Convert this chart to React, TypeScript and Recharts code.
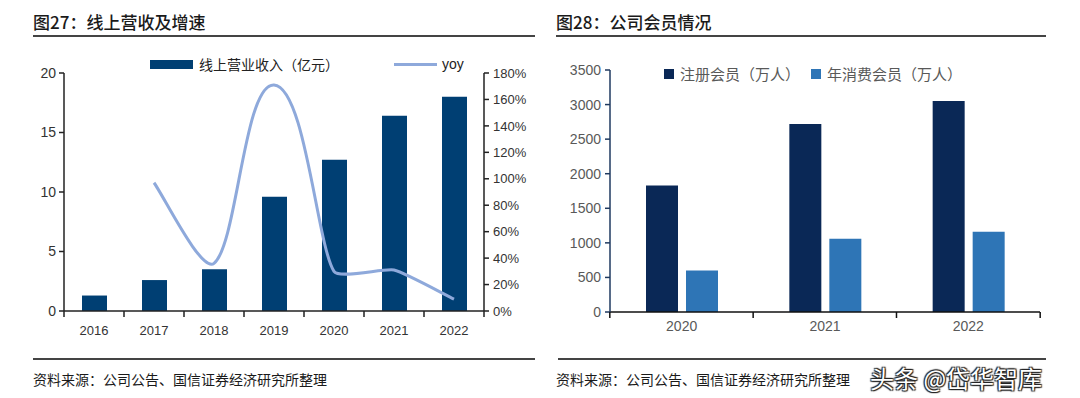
import React from "react";
import { ComposedChart, BarChart, Bar, Line, XAxis, YAxis, Legend } from "recharts";

// 图27 data
const revenueYears = ["2016", "2017", "2018", "2019", "2020", "2021", "2022"];
const onlineRevenue = [1.3, 2.6, 3.5, 9.6, 12.7, 16.4, 18.0];
const revenueYoy = [null, 97, 36, 171, 30, 31, 9];
const revenueTicks = [0, 5, 10, 15, 20];
const yoyTicks = [0, 20, 40, 60, 80, 100, 120, 140, 160, 180];

// 图28 data
const memberYears = ["2020", "2021", "2022"];
const registeredMembers = [1830, 2720, 3050];
const payingMembers = [600, 1060, 1160];
const memberTicks = [0, 500, 1000, 1500, 2000, 2500, 3000, 3500];

const FONT = "'Liberation Sans', 'Noto Sans CJK SC', sans-serif";
const CJK = "'Noto Sans CJK SC', sans-serif";

const revenueData = revenueYears.map((year, i) => ({
  year,
  revenue: onlineRevenue[i],
  yoy: revenueYoy[i],
}));

const memberData = memberYears.map((year, i) => ({
  year,
  registered: registeredMembers[i],
  paying: payingMembers[i],
}));

// excel-like smoothed line: tangent from neighbours, arm length scaled by chord length
const SMOOTH = 0.16;
const smoothCurve = (context: any) => {
  let pts: [number, number][] = [];
  const tangent = (i: number) => {
    const a = pts[i - 1] || pts[i];
    const b = pts[i + 1] || pts[i];
    const dx = b[0] - a[0];
    const dy = b[1] - a[1];
    const len = Math.hypot(dx, dy) || 1;
    return [dx / len, dy / len];
  };
  return {
    areaStart() {},
    areaEnd() {},
    lineStart() {
      pts = [];
    },
    point(x: number, y: number) {
      pts.push([+x, +y]);
    },
    lineEnd() {
      if (!pts.length) return;
      context.moveTo(pts[0][0], pts[0][1]);
      for (let i = 0; i < pts.length - 1; i++) {
        const p1 = pts[i];
        const p2 = pts[i + 1];
        const chord = Math.hypot(p2[0] - p1[0], p2[1] - p1[1]) * SMOOTH;
        const t1 = tangent(i);
        const t2 = tangent(i + 1);
        context.bezierCurveTo(
          p1[0] + t1[0] * chord,
          p1[1] + t1[1] * chord,
          p2[0] - t2[0] * chord,
          p2[1] - t2[1] * chord,
          p2[0],
          p2[1]
        );
      }
    },
  };
};

// x tick with tick marks between categories (like excel)
const makeBoundaryTick =
  (band: number, count: number, color: string, size: number, gap: number, axisColor: string) =>
  (props: any) => {
    const { x, y, payload, index } = props;
    const last = index === count - 1;
    return (
      <g>
        <line x1={x - band / 2} x2={x - band / 2} y1={y} y2={y + 6} stroke={axisColor} strokeWidth={1.5} />
        {last && (
          <line x1={x + band / 2} x2={x + band / 2} y1={y} y2={y + 6} stroke={axisColor} strokeWidth={1.5} />
        )}
        <text x={x} y={y + gap} textAnchor="middle" dy="0.355em" fill={color} fontSize={size} fontFamily={FONT}>
          {payload.value}
        </text>
      </g>
    );
  };

const RevenueLegend = () => (
  <div style={{ display: "flex", alignItems: "center", fontFamily: CJK, fontSize: 14, color: "#222", whiteSpace: "nowrap" }}>
    <span style={{ display: "inline-block", width: 43, height: 9, background: "#003F73", marginRight: 6 }} />
    <span>线上营业收入（亿元）</span>
    <span style={{ display: "inline-block", width: 43, height: 3, background: "#8EA9DB", marginLeft: 55, marginRight: 5 }} />
    <span style={{ fontFamily: FONT }}>yoy</span>
  </div>
);

const MemberLegend = () => (
  <div style={{ display: "flex", alignItems: "center", fontFamily: CJK, fontSize: 15, color: "#595959", whiteSpace: "nowrap" }}>
    <span style={{ display: "inline-block", width: 10, height: 10, background: "#0A2856", marginRight: 6 }} />
    <span>注册会员（万人）</span>
    <span style={{ display: "inline-block", width: 10, height: 10, background: "#2E75B6", marginLeft: 11, marginRight: 6 }} />
    <span>年消费会员（万人）</span>
  </div>
);

const titleStyle: React.CSSProperties = {
  position: "absolute",
  top: 9,
  fontFamily: CJK,
  fontSize: 17,
  fontWeight: 500,
  color: "#1a1a1a",
  whiteSpace: "nowrap",
};

const sourceStyle: React.CSSProperties = {
  position: "absolute",
  top: 369,
  fontFamily: CJK,
  fontSize: 14,
  color: "#1a1a1a",
  whiteSpace: "nowrap",
};

const ruleStyle = (left: number, top: number, width: number): React.CSSProperties => ({
  position: "absolute",
  left,
  top,
  width,
  height: 1.5,
  background: "#444",
});

export default function App() {
  return (
    <div style={{ position: "absolute", left: 0, top: 0, width: 1080, height: 398, background: "#fff", overflow: "hidden" }}>
      <div style={{ ...titleStyle, left: 33 }}>图27：线上营收及增速</div>
      <div style={ruleStyle(33, 35, 502)} />
      <div style={{ ...titleStyle, left: 556 }}>图28：公司会员情况</div>
      <div style={ruleStyle(556, 35, 490)} />

      <div style={{ position: "absolute", left: 0, top: 0 }}>
        <ComposedChart
          width={540}
          height={398}
          data={revenueData}
          margin={{ top: 73, right: 6, left: 24, bottom: 57 }}
          barSize={25}
        >
          <XAxis
            dataKey="year"
            xAxisId="x"
            height={30}
            axisLine={{ stroke: "#222", strokeWidth: 1.5 }}
            tickLine={false}
            tickSize={0}
            tickMargin={0}
            interval={0}
            tick={makeBoundaryTick(60, revenueYears.length, "#333", 13, 19, "#222")}
          />
          <YAxis
            yAxisId="left"
            width={40}
            domain={[0, 20]}
            ticks={revenueTicks}
            axisLine={{ stroke: "#222", strokeWidth: 1.5 }}
            tickLine={{ stroke: "#222", strokeWidth: 1.5 }}
            tickSize={5}
            tickMargin={3}
            tick={{ fill: "#333", fontSize: 14, fontFamily: FONT }}
          />
          <YAxis
            yAxisId="right"
            orientation="right"
            width={50}
            domain={[0, 180]}
            ticks={yoyTicks}
            tickFormatter={(v) => `${v}%`}
            axisLine={{ stroke: "#222", strokeWidth: 1.5 }}
            tickLine={{ stroke: "#222", strokeWidth: 1.5 }}
            tickSize={5}
            tickMargin={4}
            tick={{ fill: "#333", fontSize: 13, fontFamily: FONT }}
          />
          <Legend
            layout="horizontal"
            verticalAlign="middle"
            align="center"
            content={() => <RevenueLegend />}
            wrapperStyle={{ top: 54, left: 150, width: "auto" }}
          />
          <Bar xAxisId="x" yAxisId="left" dataKey="revenue" fill="#003F73" isAnimationActive={false} />
          <Line
            xAxisId="x"
            yAxisId="right"
            type={smoothCurve as any}
            dataKey="yoy"
            stroke="#8EA9DB"
            strokeWidth={3}
            dot={false}
            activeDot={false}
            isAnimationActive={false}
          />
        </ComposedChart>
      </div>

      <div style={{ position: "absolute", left: 540, top: 0 }}>
        <BarChart
          width={540}
          height={398}
          data={memberData}
          margin={{ top: 70, right: 40, left: 20, bottom: 56 }}
          barSize={32}
          barGap={8}
        >
          <XAxis
            dataKey="year"
            height={30}
            axisLine={{ stroke: "#111", strokeWidth: 1.5 }}
            tickLine={false}
            tickSize={0}
            tickMargin={0}
            interval={0}
            tick={makeBoundaryTick(143.7, memberYears.length, "#595959", 14, 14, "#111")}
          />
          <YAxis
            width={50}
            domain={[0, 3500]}
            ticks={memberTicks}
            axisLine={{ stroke: "#1F3A60", strokeWidth: 1.5 }}
            tickLine={{ stroke: "#1F3A60", strokeWidth: 1.5 }}
            tickSize={5}
            tickMargin={4}
            tick={{ fill: "#595959", fontSize: 14, fontFamily: FONT }}
          />
          <Legend
            layout="horizontal"
            verticalAlign="middle"
            align="center"
            content={() => <MemberLegend />}
            wrapperStyle={{ top: 63, left: 124, width: "auto" }}
          />
          <Bar dataKey="registered" fill="#0A2856" isAnimationActive={false} />
          <Bar dataKey="paying" fill="#2E75B6" isAnimationActive={false} />
        </BarChart>
      </div>

      <div style={ruleStyle(33, 358, 502)} />
      <div style={ruleStyle(558, 358, 488)} />
      <div style={{ ...sourceStyle, left: 33 }}>资料来源：公司公告、国信证券经济研究所整理</div>
      <div style={{ ...sourceStyle, left: 556 }}>资料来源：公司公告、国信证券经济研究所整理</div>
      <div
        style={{
          position: "absolute",
          left: 870,
          top: 360,
          fontFamily: CJK,
          fontSize: 24,
          color: "#fff",
          whiteSpace: "nowrap",
          textShadow: "1px 1px 1px #222, -1px -1px 1px #222, 1px -1px 1px #222, -1px 1px 1px #222",
        }}
      >
        头条 @岱华智库
      </div>
    </div>
  );
}
